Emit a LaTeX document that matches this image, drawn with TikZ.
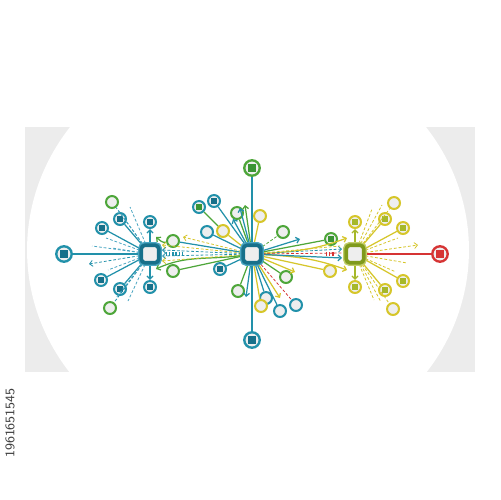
\documentclass[tikz,border=0pt]{standalone}
\usetikzlibrary{arrows.meta}
\definecolor{tl}{HTML}{2291AA}
\definecolor{tll}{HTML}{4AA6C2}
\definecolor{tld}{HTML}{17708A}
\definecolor{gr}{HTML}{4EA63A}
\definecolor{grd}{HTML}{3A9434}
\definecolor{yl}{HTML}{D6C62A}
\definecolor{ylg}{HTML}{A6B82A}
\definecolor{rd}{HTML}{D63434}
\definecolor{ol}{HTML}{7F9A1C}
\definecolor{bgg}{HTML}{ECECEC}
\definecolor{nf}{HTML}{EEEEEE}
\begin{document}
\begin{tikzpicture}[x=0.02cm,y=-0.02cm,
  sat/.style={circle,draw=#1,fill=nf,line width=1.15pt,minimum size=6.8pt,inner sep=0pt},
  big/.style={circle,draw=#1,fill=nf,line width=1.35pt,minimum size=8.8pt,inner sep=0pt},
  sq/.style={path picture={\fill[#1] ([shift={(-1.8pt,-1.8pt)}]path picture bounding box.center) rectangle ([shift={(1.8pt,1.8pt)}]path picture bounding box.center);}},
  bsq/.style={path picture={\fill[#1] ([shift={(-2.2pt,-2.2pt)}]path picture bounding box.center) rectangle ([shift={(2.2pt,2.2pt)}]path picture bounding box.center);}},
  hub/.style 2 args={rectangle,rounded corners=2.2pt,draw=#1,fill=nf,line width=2.1pt,minimum size=10pt,inner sep=0pt,preaction={draw=#2,line width=3.6pt}},
  ln/.style={draw=#1,line width=0.7pt},
  dl/.style={draw=#1,line width=0.45pt,dash pattern=on 1.6pt off 1.1pt},
  ar/.style={-{Straight Barb[length=1.8pt,width=3.4pt]}},
  bars/.style={draw=#1,line width=2.4pt,dash pattern=on 0.7pt off 1.1pt},
]
\useasboundingbox (0,0) rectangle (500,500);
% background
\fill[bgg] (25,127) rectangle (475,372);
\fill[white] (248,250) ellipse [x radius=4.42cm, y radius=4.15cm];
\node[rotate=90,font=\sffamily\fontsize{7.5}{8}\selectfont,text=black!75] (wm) at (10,423) {1961651545};

% ===== hubs =====
\node[hub={tld}{tll}] (L) at (150,254) {};
\node[hub={tld}{tll}] (C) at (252,254) {};
\node[hub={ol}{ylg!70}] (R) at (355,254) {};

% ===== left group =====
\node[big=tl,bsq=tld] (LA) at (64,254) {};
\node[sat=tl,sq=tld] (LT) at (150,222) {};
\node[sat=tl,sq=tld] (LB) at (150,287) {};
\node[sat=tl,sq=tld] (L1) at (102,228) {};
\node[sat=tl,sq=tld] (L2) at (120,219) {};
\node[sat=tl,sq=tld] (L3) at (101,280) {};
\node[sat=tl,sq=tld] (L4) at (120,289) {};
\node[sat=gr] (L5) at (112,202) {};
\node[sat=gr] (L6) at (110,308) {};
\node[sat=gr] (L7) at (173,241) {};
\node[sat=gr] (L8) at (173,271) {};

\coordinate (la1) at (92,246);
\coordinate (la2) at (89,264);
\coordinate (la3) at (106,238);
\coordinate (la4) at (108,270);
\coordinate (la5) at (130,207);
\coordinate (la6) at (128,301);
\coordinate (la7) at (118,210);
\coordinate (la8) at (116,298);
\coordinate (la9) at (112,248);

\draw[ln=tl] (L) -- (LA);
\foreach \n in {L1,L2,L3,L4} \draw[ln=tl] (L) -- (\n);
\draw[ln=tl,ar] (L) -- (LT);
\draw[ln=tl,ar] (L) -- (LB);
\draw[dl=tl] (L) -- (L5);
\draw[dl=tl] (L) -- (L6);
\foreach \n in {la1,la3,la4,la5,la6,la7,la8,la9} \draw[dl=tll] (L) -- (\n);
\draw[dl=tl,ar] (L) -- (la2);

% ===== between L and C =====
\coordinate (g1) at (156,237);
\coordinate (g2) at (156,269);
\coordinate (t1) at (162,250);
\coordinate (t2) at (162,256);
\coordinate (y1) at (183,237);
\coordinate (y2) at (162,261);
\coordinate (y3) at (162,245);
\coordinate (b1) at (166,254);
\coordinate (b2) at (183,254);

\draw[ln=gr,ar] (L7) to[out=190,in=-40] (g1);
\draw[ln=gr,ar] (C) to[out=188,in=25] (g2);
\draw[ln=gr] (C) -- (L8);
\draw[ln=tl] (C) -- (L7);
\draw[dl=tl,ar] (C) -- (t1);
\draw[dl=tl,ar] (C) -- (t2);
\draw[dl=yl,ar] (C) -- (y1);
\draw[dl=yl,ar] (C) -- (y2);
\draw[dl=yl,ar] (C) -- (y3);
\draw[bars=tl] (b1) -- (b2);

% ===== center group =====
\node[big=gr,bsq=grd] (CT) at (252,168) {};
\node[big=tl,bsq=tld] (CB) at (252,340) {};
\node[sat=tl,sq=grd] (C1) at (199,207) {};
\node[sat=tl,sq=tld] (C2) at (214,201) {};
\node[sat=tl] (C3) at (207,232) {};
\node[sat=yl] (C4) at (223,231) {};
\node[sat=gr] (C5) at (237,213) {};
\node[sat=yl] (C6) at (260,216) {};
\node[sat=gr] (C7) at (283,232) {};
\node[sat=gr,sq=grd] (C8) at (331,239) {};
\node[sat=yl] (C9) at (330,271) {};
\node[sat=gr] (C10) at (286,277) {};
\node[sat=tl,sq=tld] (C11) at (220,269) {};
\node[sat=gr] (C12) at (238,291) {};
\node[sat=tl] (C13) at (266,298) {};
\node[sat=yl] (C14) at (261,306) {};
\node[sat=tl] (C15) at (280,311) {};
\node[sat=tl] (C16) at (296,305) {};

\coordinate (u1) at (245,205);
\coordinate (u2) at (240,208);
\coordinate (u3) at (233,219);
\coordinate (u4) at (300,239);
\coordinate (u5) at (295,272);
\coordinate (u6) at (246,297);
\coordinate (u7) at (280,298);
\coordinate (r1) at (347,238);
\coordinate (r2) at (347,270);
\coordinate (r3) at (342,249);
\coordinate (r4) at (342,258);
\coordinate (r5) at (340,246);
\coordinate (rb1) at (326,254);
\coordinate (rb2) at (335,254);
\coordinate (rr) at (344,253);

\draw[ln=tl] (C) -- (CT);
\draw[ln=tl] (C) -- (CB);
\draw[ln=gr] (C1) -- (C4);
\draw[ln=yl] (C4) -- (C);
\draw[ln=tl] (C2) -- (C);
\draw[ln=tl] (C3) -- (C);
\draw[ln=gr] (C5) -- (C);
\draw[ln=yl] (C6) -- (C);
\draw[dl=gr] (C) -- (C7);
\draw[ln=gr] (C) -- (C8);
\draw[ln=yl] (C) -- (C9);
\draw[ln=gr] (C) -- (C10);
\draw[ln=tl] (C) -- (C11);
\draw[ln=gr] (C) -- (C12);
\draw[ln=tl] (C) -- (C13);
\draw[ln=yl] (C) -- (C14);
\draw[ln=tl] (C) -- (C15);
\draw[dl=rd] (C) -- (C16);
\draw[ln=gr,ar] (C) -- (u1);
\draw[ln=tl,ar] (C) -- (u2);
\draw[ln=tl,ar] (C) -- (u3);
\draw[ln=tl,ar] (C) -- (u4);
\draw[ln=yl,ar] (C) -- (u5);
\draw[ln=tl,ar] (C) -- (u6);
\draw[ln=yl,ar] (C) -- (u7);
\draw[ln=yl,ar] (C) to[out=3,in=200] (r1);
\draw[ln=yl,ar] (C) to[out=-3,in=160] (r2);
\draw[dl=tl,ar] (C) -- (r3);
\draw[ln=tl,ar] (C) -- (r4);
\draw[dl=yl] (C) -- (r5);
\draw[dl=rd] (C) -- (rr);
\draw[bars=rd] (rb1) -- (rb2);

% ===== right group =====
\node[big=rd,bsq=rd] (RA) at (440,254) {};
\node[sat=yl,sq=ylg] (RT) at (355,222) {};
\node[sat=yl,sq=ylg] (RB) at (355,287) {};
\node[sat=yl,sq=ylg] (R1) at (385,219) {};
\node[sat=yl,sq=ylg] (R2) at (403,228) {};
\node[sat=yl] (R3) at (394,203) {};
\node[sat=yl,sq=ylg] (R4) at (385,290) {};
\node[sat=yl,sq=ylg] (R5) at (403,281) {};
\node[sat=yl] (R6) at (393,309) {};

\coordinate (ra1) at (418,245);
\coordinate (ra2) at (407,263);
\coordinate (ra3) at (398,238);
\coordinate (ra4) at (372,209);
\coordinate (ra5) at (374,300);
\coordinate (ra6) at (396,272);
\coordinate (ra7) at (382,205);
\coordinate (ra8) at (381,302);

\draw[ln=rd] (R) -- (RA);
\draw[ln=ylg,ar] (R) -- (RT);
\draw[ln=ylg,ar] (R) -- (RB);
\foreach \n in {R1,R2,R4,R5} \draw[ln=yl] (R) -- (\n);
\draw[dl=yl] (R) -- (R3);
\draw[dl=yl] (R) -- (R6);
\draw[dl=yl,ar] (R) -- (ra1);
\foreach \n in {ra2,ra3,ra4,ra5,ra6,ra7,ra8} \draw[dl=yl] (R) -- (\n);

% redraw hubs on top
\node[hub={tld}{tll}] (L') at (150,254) {};
\node[hub={tld}{tll}] (C') at (252,254) {};
\node[hub={ol}{ylg!70}] (R') at (355,254) {};
\end{tikzpicture}
\end{document}
